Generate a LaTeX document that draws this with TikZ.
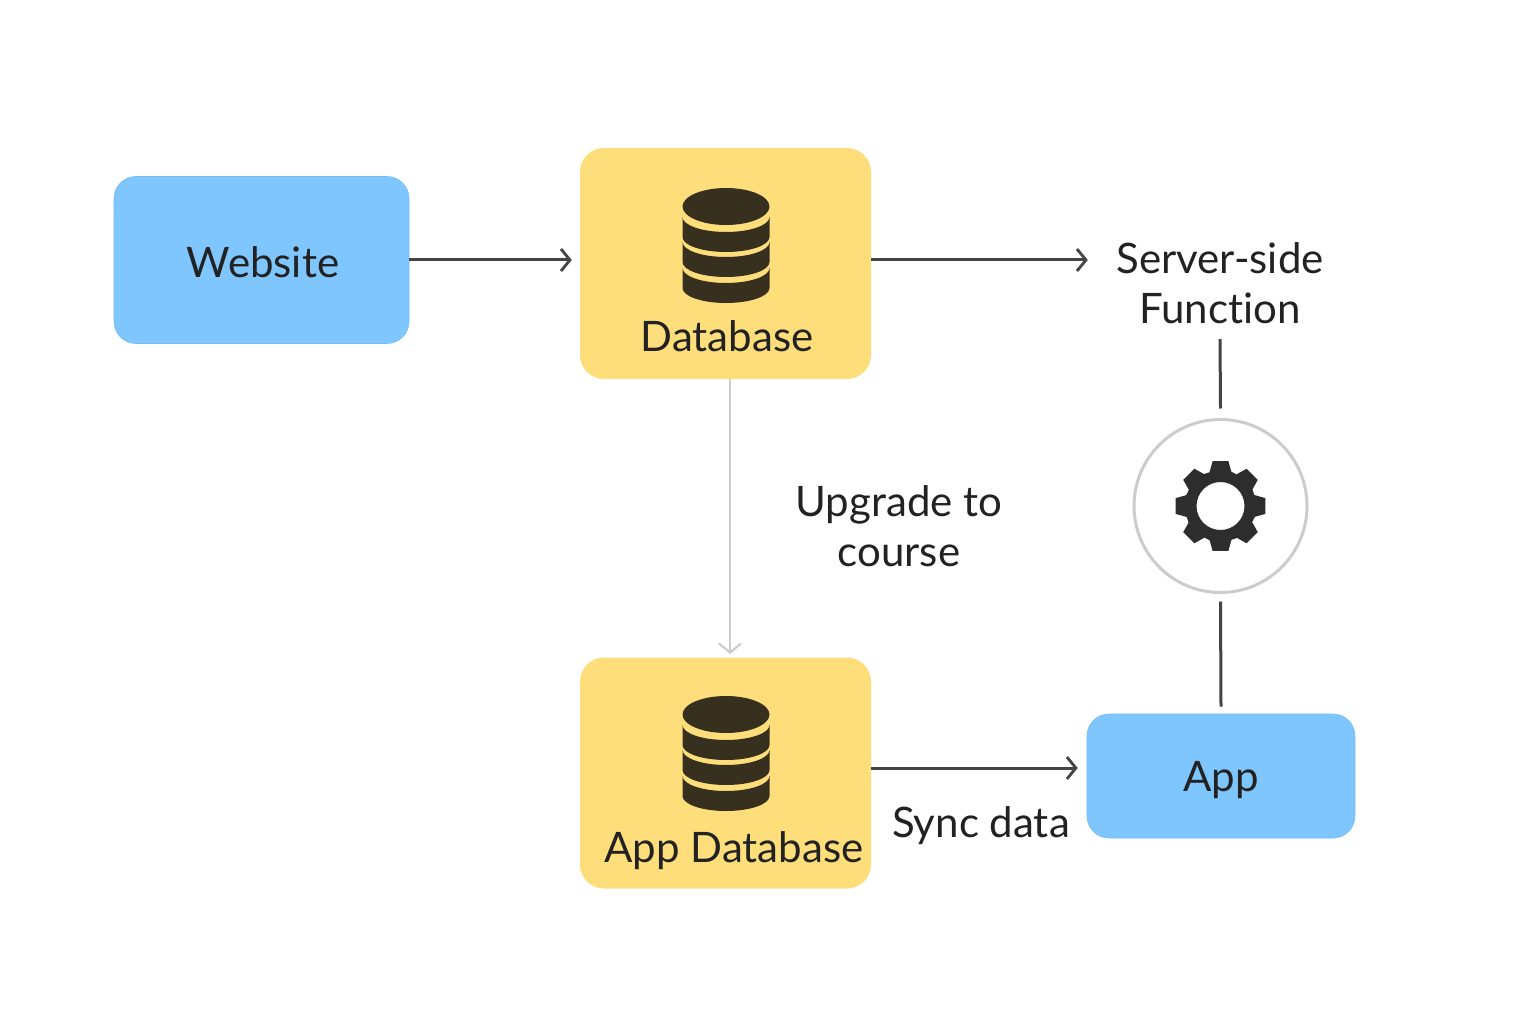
\documentclass[tikz,border=0pt]{standalone}
\usepackage{fontspec}
\setmainfont[Ligatures=NoCommon]{Lato}
\usetikzlibrary{arrows.meta}
\definecolor{yel}{HTML}{FDDE7B}
\definecolor{blu}{HTML}{7FC5FE}
\definecolor{bluedge}{HTML}{74BDF6}
\definecolor{icon}{HTML}{38301F}
\definecolor{txt}{HTML}{222222}
\definecolor{lin}{HTML}{444444}
\definecolor{pale}{HTML}{CCCCCC}
\definecolor{geardark}{HTML}{2D2D2D}
\tikzset{
  x=1pt,y=-1pt,
  lbl/.style={font=\fontsize{42}{50}\selectfont,text=txt,inner sep=0pt,align=center},
  yelbox/.style={fill=yel,rounded corners=24pt,inner sep=0pt,minimum width=291pt,minimum height=231pt},
  blubox/.style={fill=blu,draw=bluedge,line width=.6pt,rounded corners=22pt,inner sep=0pt},
  conn/.style={draw=lin,line width=3pt,-{Straight Barb[length=9pt,width=22pt,line width=2.8pt]}},
  plain/.style={draw=lin,line width=3pt},
  pconn/.style={draw=pale,line width=2.2pt,-{Straight Barb[length=9pt,width=22pt,line width=2.2pt]}},
  pics/dbicon/.style={code={
    \fill[icon] (0,0) ellipse [x radius=43.5pt,y radius=18.5pt];
    \foreach \t/\b in {10.5/30.5,35.5/55.5,61.5/81.5}{
      \fill[icon] (-43.5,\t) arc[start angle=180,end angle=360,x radius=43.5pt,y radius=15pt]
        -- (43.5,\b) arc[start angle=0,end angle=-180,x radius=43.5pt,y radius=15pt] -- cycle;
    }
  }}
}
\begin{document}
\begin{tikzpicture}
\useasboundingbox (0,0) rectangle (1536,1024);
\fill[white] (0,0) rectangle (1536,1024);

\node[blubox,minimum width=295pt,minimum height=167pt] (website) at (261.5,260) {};
\node[lbl] (websitet) at (263,262.5) {Website};

\node[yelbox] (db) at (725.5,263.5) {};
\pic at (726,206.5) {dbicon};
\node[lbl] (dbt) at (727,336.5) {Database};

\node[yelbox] (appdb) at (725.5,773) {};
\pic at (726,714.5) {dbicon};
\node[lbl] (appdbt) at (734,850.5) {App Database};

\node[blubox,minimum width=268pt,minimum height=124pt] (app) at (1221,776) {};
\node[lbl] (appt) at (1221,780.5) {App};

\node[lbl,minimum height=112pt,minimum width=264pt] (fn) at (1220,283) {Server-side\\Function};
\node[lbl] (upg) at (899,526.5) {Upgrade to\\course};
\node[lbl] (sync) at (981,825.5) {Sync data};

\node[circle,draw=pale,line width=3pt,fill=white,minimum size=173pt,inner sep=0pt] (gearc) at (1220.5,506) {};
\begin{scope}[shift={(gearc.center)}]
\fill[geardark,even odd rule]
  (-17.5:36) \foreach \a in {0,45,...,315}{
    -- (\a-17.5:36) -- (\a-10:45.5) -- (\a+10:45.5) -- (\a+17.5:36) -- (\a+27.5:35.5)
  } -- cycle
  (0,0) circle [radius=24pt];
\end{scope}

\draw[conn,shorten >=8pt] (website.east) -- (website.east -| db.west);
\draw[conn] (db.east |- website.east) -- (fn.west |- website.east);
\draw[pconn,shorten >=4pt] (730,379) -- (730,658);
\draw[conn,shorten >=9pt] (appdb.east |- 0,768) -- (app.west |- 0,768);
\draw[plain] (fn.south) -- ([yshift=9.5pt]gearc.north);
\draw[plain] ([yshift=-7.5pt]gearc.south) -- ([yshift=7pt]app.north);
\end{tikzpicture}
\end{document}
